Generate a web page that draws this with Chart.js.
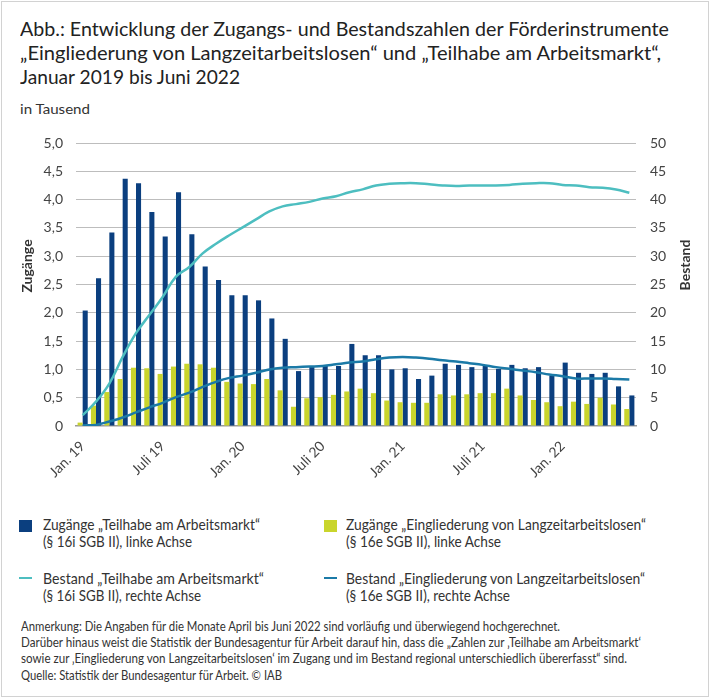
<!DOCTYPE html>
<html lang="de">
<head>
<meta charset="UTF-8">
<title>Zugänge und Bestand Förderinstrumente</title>
<script src="https://cdn.jsdelivr.net/npm/chart.js"></script>
<style>
  html, body { margin: 0; padding: 0; background: #fff; }
  #frame { position: relative; width: 710px; height: 698px; overflow: hidden; font-family: Lato, sans-serif; color: #333; }
  #frame::after { content: ""; position: absolute; left: 1px; top: 1px; right: 1px; bottom: 1px; border: 1px solid #d2d2d2; pointer-events: none; }
  .t { position: absolute; white-space: nowrap; display: inline-block; transform-origin: 0 0; }
  .title { font-size: 19px; line-height: 22.8px; color: #222; left: 20px; }
  .note { font-size: 12.5px; line-height: 15px; color: #333; left: 21px; }
  .leg { font-size: 15px; line-height: 18px; color: #333; }
  .axt { position: absolute; font-size: 14px; font-weight: bold; color: #333; white-space: nowrap; transform: translate(-50%, -50%) rotate(-90deg); }
  .sq { position: absolute; width: 13px; height: 12px; }
  .dash { position: absolute; width: 13px; height: 2px; }
  #box { position: absolute; left: 0; top: 120px; width: 710px; height: 360px; }
</style>
</head>
<body>
<div id="frame">
  <div class="t title" style="top:18px" data-w="649">Abb.: Entwicklung der Zugangs- und Bestandszahlen der Förderinstrumente</div>
  <div class="t title" style="top:42px" data-w="641">„Eingliederung von Langzeitarbeitslosen“ und „Teilhabe am Arbeitsmarkt“,</div>
  <div class="t title" style="top:65.5px" data-w="220">Januar 2019 bis Juni 2022</div>
  <div class="t" style="top:100.5px;left:20px;font-size:13.5px;line-height:16.2px" data-w="70">in Tausend</div>

  <div id="box"><canvas id="chart"></canvas></div>
  <div class="axt" style="left:26px;top:266px">Zugänge</div>
  <div class="axt" style="left:684px;top:265px">Bestand</div>

  <!-- Legende -->
  <div class="sq" style="left:19px;top:520px;background:#0b3f7f"></div>
  <div class="t leg" style="left:43px;top:515px" data-w="217">Zugänge „Teilhabe am Arbeitsmarkt“</div>
  <div class="t leg" style="left:43px;top:532px" data-w="149">(§ 16i SGB II), linke Achse</div>
  <div class="sq" style="left:324px;top:520px;background:#c9d52c"></div>
  <div class="t leg" style="left:346px;top:515px" data-w="300">Zugänge „Eingliederung von Langzeitarbeitslosen“</div>
  <div class="t leg" style="left:346px;top:532px" data-w="155">(§ 16e SGB II), linke Achse</div>

  <div class="dash" style="left:19px;top:577px;background:#4dbec0"></div>
  <div class="t leg" style="left:43px;top:569px" data-w="221">Bestand „Teilhabe am Arbeitsmarkt“</div>
  <div class="t leg" style="left:43px;top:586px" data-w="158">(§ 16i SGB II), rechte Achse</div>
  <div class="dash" style="left:324px;top:577px;background:#1b7aa7"></div>
  <div class="t leg" style="left:346px;top:569px" data-w="299">Bestand „Eingliederung von Langzeitarbeitslosen“</div>
  <div class="t leg" style="left:346px;top:586px" data-w="164">(§ 16e SGB II), rechte Achse</div>

  <!-- Anmerkungen -->
  <div class="t note" style="top:619px" data-w="539">Anmerkung: Die Angaben für die Monate April bis Juni 2022 sind vorläufig und überwiegend hochgerechnet.</div>
  <div class="t note" style="top:635px" data-w="620">Darüber hinaus weist die Statistik der Bundesagentur für Arbeit darauf hin, dass die „Zahlen zur ‚Teilhabe am Arbeitsmarkt‘</div>
  <div class="t note" style="top:651px" data-w="606">sowie zur ‚Eingliederung von Langzeitarbeitslosen‘ im Zugang und im Bestand regional unterschiedlich übererfasst“ sind.</div>
  <div class="t note" style="top:668px" data-w="261">Quelle: Statistik der Bundesagentur für Arbeit. © IAB</div>
</div>

<script>
// Monate Januar 2019 bis Juni 2022
const months = [
  'Jan. 19','Feb. 19','März 19','Apr. 19','Mai 19','Juni 19','Juli 19','Aug. 19','Sep. 19','Okt. 19','Nov. 19','Dez. 19',
  'Jan. 20','Feb. 20','März 20','Apr. 20','Mai 20','Juni 20','Juli 20','Aug. 20','Sep. 20','Okt. 20','Nov. 20','Dez. 20',
  'Jan. 21','Feb. 21','März 21','Apr. 21','Mai 21','Juni 21','Juli 21','Aug. 21','Sep. 21','Okt. 21','Nov. 21','Dez. 21',
  'Jan. 22','Feb. 22','März 22','Apr. 22','Mai 22','Juni 22'
];

// Zugänge in Tausend (linke Achse)
const zugangTeilhabe = [
  2.04, 2.61, 3.42, 4.37, 4.29, 3.78, 3.35, 4.13, 3.39, 2.82, 2.58, 2.31,
  2.31, 2.22, 1.90, 1.54, 0.97, 1.06, 1.06, 1.06, 1.45, 1.25, 1.25, 1.00,
  1.02, 0.83, 0.89, 1.10, 1.08, 1.04, 1.06, 1.01, 1.08, 1.02, 1.04, 0.89,
  1.12, 0.94, 0.92, 0.94, 0.70, 0.54
];
const zugangEingliederung = [
  0.06, 0.36, 0.60, 0.83, 1.03, 1.02, 0.92, 1.05, 1.10, 1.09, 1.03, 0.78,
  0.75, 0.74, 0.83, 0.63, 0.34, 0.49, 0.51, 0.55, 0.61, 0.66, 0.58, 0.45,
  0.42, 0.41, 0.41, 0.56, 0.54, 0.56, 0.58, 0.58, 0.66, 0.54, 0.46, 0.42,
  0.35, 0.43, 0.39, 0.50, 0.38, 0.30
];

// Bestand in Tausend (rechte Achse)
const bestandTeilhabe = [
  1.9, 4.3, 7.5, 12.2, 16.4, 19.6, 22.8, 26.4, 28.1, 30.5, 32.2, 33.7,
  35.1, 36.5, 37.9, 38.8, 39.2, 39.6, 40.2, 40.6, 41.3, 41.8, 42.5, 42.8,
  42.9, 42.9, 42.7, 42.5, 42.4, 42.5, 42.5, 42.5, 42.6, 42.8, 42.9, 42.9,
  42.6, 42.5, 42.2, 42.1, 41.8, 41.2
];
const bestandEingliederung = [
  0.1, 0.2, 0.8, 1.5, 2.4, 3.3, 4.1, 5.1, 5.9, 6.9, 7.8, 8.5,
  8.9, 9.4, 10.0, 10.3, 10.4, 10.5, 10.6, 10.9, 11.2, 11.4, 11.8, 12.1,
  12.2, 12.1, 11.9, 11.6, 11.4, 11.1, 10.8, 10.4, 10.1, 9.8, 9.5, 9.1,
  8.8, 8.4, 8.4, 8.4, 8.3, 8.2
];

const leftTickLabels = ['0', '0,5', '1,0', '1,5', '2,0', '2,5', '3,0', '3,5', '4,0', '4,5', '5,0'];
const rightTickLabels = ['0', '5', '10', '15', '20', '25', '30', '35', '40', '45', '50'];
const xTickLabels = ['Jan. 19', 'Juli 19', 'Jan. 20', 'Juli 20', 'Jan. 21', 'Juli 21', 'Jan. 22'];

// Texte horizontal auf die Breite im Original bringen
function fitText() {
  document.querySelectorAll('[data-w]').forEach(el => {
    el.style.transform = 'none';
    const w = el.getBoundingClientRect().width;
    el.style.transform = 'scaleX(' + (parseFloat(el.dataset.w) / w) + ')';
  });
}

Chart.defaults.font.family = 'Lato, sans-serif';
Chart.defaults.color = '#444';

function drawChart() {
  const ctx = document.getElementById('chart').getContext('2d');
  new Chart(ctx, {
    data: {
      labels: months,
      datasets: [
        {
          type: 'line', label: 'Bestand Teilhabe', data: bestandTeilhabe, yAxisID: 'y1',
          borderColor: '#4dbec0', borderWidth: 2.5, pointRadius: 0, tension: 0.4, order: 0
        },
        {
          type: 'line', label: 'Bestand Eingliederung', data: bestandEingliederung, yAxisID: 'y1',
          borderColor: '#1b7aa7', borderWidth: 2.5, pointRadius: 0, tension: 0.4, order: 0
        },
        {
          type: 'bar', label: 'Zugänge Eingliederung', data: zugangEingliederung, yAxisID: 'y',
          backgroundColor: '#c9d52c', barPercentage: 1, categoryPercentage: 0.76, order: 1
        },
        {
          type: 'bar', label: 'Zugänge Teilhabe', data: zugangTeilhabe, yAxisID: 'y',
          backgroundColor: '#0b3f7f', barPercentage: 1, categoryPercentage: 0.76, order: 1
        }
      ]
    },
    options: {
      responsive: true,
      maintainAspectRatio: false,
      animation: false,
      layout: { padding: { top: 23, left: 0, right: 0, bottom: 0 } },
      plugins: { legend: { display: false }, tooltip: { enabled: false } },
      scales: {
        x: {
          afterFit: s => { s.height = 54; },
          grid: { display: false },
          border: { display: true, color: '#9a9a9a', width: 1.5 },
          ticks: {
            autoSkip: false, maxRotation: 45, minRotation: 45, padding: 4,
            font: { size: 14 }, color: '#444',
            callback: (v, i) => (i % 6 === 0 ? xTickLabels[i / 6] : null)
          }
        },
        y: {
          position: 'left', min: 0, max: 5,
          afterFit: s => { s.width = 76; },
          border: { display: false },
          grid: {
            drawTicks: false, tickLength: 0, lineWidth: 1,
            color: c => (c.tick.value === 0 ? 'rgba(0,0,0,0)' : '#bdbdbd'),
            borderDash: [1, 2]
          },
          ticks: {
            stepSize: 0.5, padding: 13, font: { size: 14 }, color: '#444',
            callback: (v, i) => leftTickLabels[i]
          }
        },
        y1: {
          position: 'right', min: 0, max: 50,
          afterFit: s => { s.width = 74; },
          border: { display: false },
          grid: { display: false, drawTicks: false, tickLength: 0 },
          ticks: {
            stepSize: 5, padding: 14, font: { size: 14 }, color: '#444',
            callback: (v, i) => rightTickLabels[i]
          }
        }
      }
    }
  });
}

document.fonts.ready.then(() => { fitText(); drawChart(); });
</script>
</body>
</html>
